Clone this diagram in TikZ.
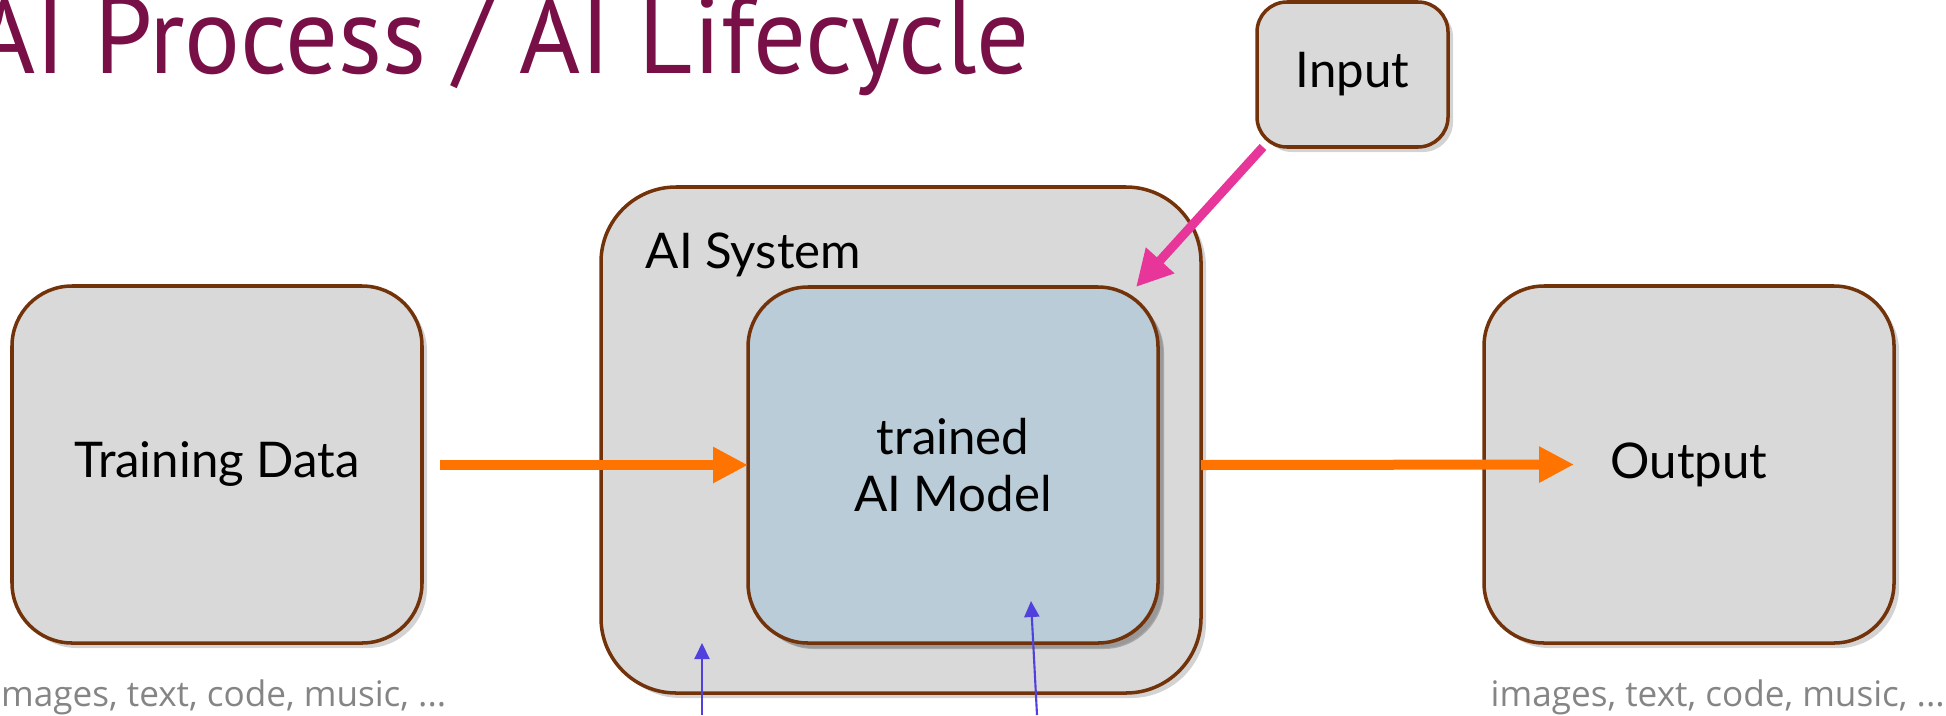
\documentclass[tikz,border=0pt]{standalone}
\usepackage{fontspec}
\setmainfont{Lato}
\newfontfamily\titlefont[FakeStretch=0.96]{PT Sans}
\newfontfamily\notefont{Open Sans}
\usetikzlibrary{arrows.meta,shadows}
\definecolor{plum}{HTML}{780F47}
\definecolor{boxgray}{HTML}{D9D9D9}
\definecolor{rim}{HTML}{73330A}
\definecolor{steel}{HTML}{B9CCD8}
\definecolor{orng}{HTML}{FF7300}
\definecolor{inpink}{HTML}{E8359A}
\definecolor{pointer}{HTML}{5040DD}
\definecolor{notegray}{HTML}{858585}
\begin{document}
\begin{tikzpicture}[
    box/.style={draw=rim, line width=1pt, fill=boxgray, rounded corners=.6cm,
        minimum width=4.1cm, minimum height=3.57cm, inner sep=0pt, outer sep=0pt,
        drop shadow={opacity=.35, shadow xshift=.05cm, shadow yshift=-.05cm},
        font=\fontsize{14}{16.2}\selectfont},
    feed/.style={-{Triangle[length=.35cm,width=.34cm]}, line width=.1cm, draw=orng},
    jab/.style={-{Triangle[length=.36cm,width=.36cm]}, line width=.09cm, draw=inpink},
    hint/.style={-{Triangle[length=.16cm,width=.15cm]}, line width=.6pt, draw=pointer},
    note/.style={text=notegray, inner sep=0pt, font=\notefont\fontsize{10}{12}\selectfont}]

\useasboundingbox (0,0) rectangle (19.46,7.15);

    \node[anchor=base west, inner sep=0pt, text=plum,
        font=\titlefont\fontsize{31}{35}\selectfont] (title) at (-.26,6.42) {AI Process / AI Lifecycle};

\node[box] (train) at (2.17,2.505) {Training Data};
\node[box] (out) at (16.89,2.505) {Output};
\node[box, minimum width=6cm, minimum height=5.06cm, rounded corners=.75cm] (sys) at (9.01,2.75) {};
    \node[anchor=base west, inner sep=0pt, font=\fontsize{14}{16.2}\selectfont] (syslbl) at (6.45,4.47) {AI System};
\node[box, fill=steel, align=center, minimum height=3.56cm,
    drop shadow={opacity=.55, shadow xshift=.06cm, shadow yshift=-.06cm}] (model) at (9.53,2.5) {trained\\AI Model};
\node[box, minimum width=1.91cm, minimum height=1.45cm, rounded corners=.3cm] (inp) at (13.525,6.405) {Input};

\draw[feed, shorten <=.18cm] (train.east |- model.west) -- (model.west);
\draw[feed] (sys.east |- model.east) -- ([xshift=.9cm]out.west);
\draw[jab] ([xshift=.06cm]inp.south west) -- ([xshift=-.22cm]model.north east);

  \coordinate (b1) at (7.02,0);
  \coordinate (b2) at (10.37,0);
\draw[hint] (b1) -- ++(0,.72);
\draw[hint] (b2) -- ++(-.06,1.14);

\node[note, anchor=base east] (lnote) at (4.47,.09) {images, text, code, music, ...};
\node[note, anchor=base west] (rnote) at (14.90,.09) {images, text, code, music, ...};
\end{tikzpicture}
\end{document}
